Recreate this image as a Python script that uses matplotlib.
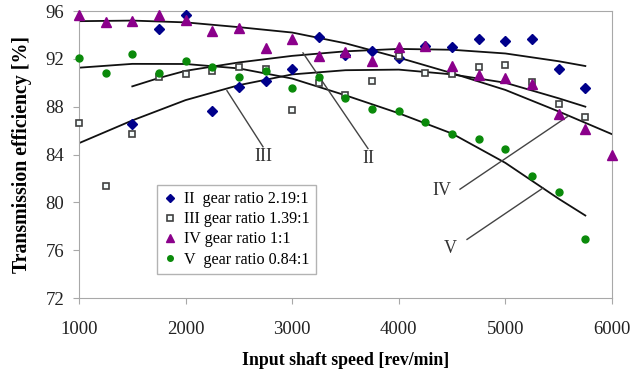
import numpy as np
import matplotlib
matplotlib.use("Agg")
from matplotlib import pyplot as plt

plt.rcParams['font.family'] = ['Liberation Serif', 'DejaVu Serif']

# measured points (rev/min, efficiency %)
rpm_full = [1000, 1250, 1500, 1750, 2000, 2250, 2500, 2750, 3000, 3250, 3500,
            3750, 4000, 4250, 4500, 4750, 5000, 5250, 5500, 5750]

rpm_II = rpm_full[2:]
eff_II = [86.55, 94.47, 95.67, 87.66, 89.62, 90.15, 91.13, 93.85, 92.32, 92.66,
          92.1, 93.07, 93.0, 93.7, 93.5, 93.7, 91.13, 89.6]

rpm_III = rpm_full
eff_III = [86.6, 81.4, 85.7, 90.5, 90.73, 91.0, 91.34, 91.13, 87.72, 89.95,
           88.98, 90.15, 92.26, 90.79, 90.7, 91.3, 91.48, 90.09, 88.22, 87.16]

rpm_IV = rpm_full + [6000]
eff_IV = [95.67, 95.1, 95.2, 95.67, 95.25, 94.33, 94.6, 92.88, 93.63, 92.26,
          92.6, 91.85, 92.96, 93.1, 91.4, 90.65, 90.42, 89.87, 87.39, 86.1, 83.96]

rpm_V = rpm_full
eff_V = [92.04, 90.79, 92.4, 90.79, 91.82, 91.3, 90.45, 90.98, 89.54, 90.5,
         88.7, 87.8, 87.64, 86.74, 85.72, 85.3, 84.5, 82.2, 80.89, 76.91]

# trend lines
trend_IV_x = [1000, 1500, 2000, 2500, 3000, 3500, 4000, 4500, 5000, 5500, 6000]
trend_IV_y = [95.15, 95.2, 95.05, 94.65, 94.2, 93.3, 92.1, 90.8, 89.4, 87.6, 85.7]

trend_II_x = [1500, 1750, 2000, 2500, 3000, 3500, 4000, 4500, 5000, 5500, 5750]
trend_II_y = [89.7, 90.4, 91.0, 91.7, 92.25, 92.63, 92.83, 92.76, 92.45, 91.8, 91.4]

trend_III_x = [1000, 1500, 2000, 2500, 3000, 3500, 4000, 4500, 5000, 5500, 5750]
trend_III_y = [84.95, 86.85, 88.55, 89.8, 90.7, 91.05, 91.1, 90.7, 90.0, 88.7, 88.0]

trend_V_x = [1000, 1500, 2000, 2500, 3000, 3500, 4000, 4500, 5000, 5500, 5750]
trend_V_y = [91.26, 91.58, 91.57, 91.2, 90.35, 88.95, 87.45, 85.75, 83.3, 80.3, 78.9]

# curve labels: text position, leader start, leader end
curve_names = ["III", "II", "IV", "V"]
name_pos = [(2726, 83.8), (3711, 83.7), (4402, 81.0), (4480, 76.1)]
leader_from = [(2726, 84.65), (3711, 84.5), (4574, 81.1), (4640, 76.9)]
leader_to = [(2388, 89.34), (3101, 92.5), (5587, 87.2), (5353, 81.2)]

fig = plt.figure(figsize=(6.33, 3.76), dpi=100)
ax = fig.add_axes([0.1248, 0.2074, 0.842, 0.7633])

ax.plot(rpm_II, eff_II, 'D', color='#00008b', markersize=5.2, ls='none',
        label='II  gear ratio 2.19:1', clip_on=False, zorder=3)
ax.plot(rpm_III, eff_III, 's', mfc='#f4fbfb', mec='#404040', mew=1.2, markersize=4.8,
        ls='none', label='III gear ratio 1.39:1', clip_on=False, zorder=3)
ax.plot(rpm_IV, eff_IV, '^', color='#8b008b', markersize=6.5, ls='none',
        label='IV gear ratio 1:1', clip_on=False, zorder=3)
ax.plot(rpm_V, eff_V, 'o', color='#0a8a0a', markersize=5, ls='none',
        label='V  gear ratio 0.84:1', clip_on=False, zorder=3)

for tx, ty in [(trend_IV_x, trend_IV_y), (trend_II_x, trend_II_y),
               (trend_III_x, trend_III_y), (trend_V_x, trend_V_y)]:
    ax.plot(tx, ty, color='#111111', lw=1.3, zorder=2)

for name, pos, a, b in zip(curve_names, name_pos, leader_from, leader_to):
    ax.plot([a[0], b[0]], [a[1], b[1]], color='#444444', lw=1.0, zorder=2)
    ax.text(pos[0], pos[1], name, fontsize=13, color='#333333',
            ha='center', va='center')

ax.set_xlim(1000, 6000)
ax.set_ylim(72, 96)
ax.set_xticks([1000, 2000, 3000, 4000, 5000, 6000])
ax.set_yticks([72, 76, 80, 84, 88, 92, 96])
for s in ax.spines.values():
    s.set_color('#a8a8a8')
ax.tick_params(direction='out', length=4.5, color='#a8a8a8', labelsize=13.5,
               labelcolor='#222222')
ax.tick_params(axis='x', pad=12)
ax.tick_params(axis='y', pad=6)

ax.set_xlabel('Input shaft speed [rev/min]', fontsize=12.8, fontweight='bold',
              labelpad=10)
ax.set_ylabel('Transmission efficiency [%]', fontsize=14.3, fontweight='bold',
              labelpad=10)

leg = ax.legend(loc='upper left', bbox_to_anchor=(0.248, 0.508),
                bbox_transform=fig.transFigure, fontsize=11.6, frameon=True,
                fancybox=False, edgecolor='#a0a0a0', handlelength=0.8,
                handletextpad=0.5, borderpad=0.4, labelspacing=0.25,
                borderaxespad=0, markerscale=0.8)
leg.get_frame().set_linewidth(1.0)

fig.savefig('out.png', dpi=100)
